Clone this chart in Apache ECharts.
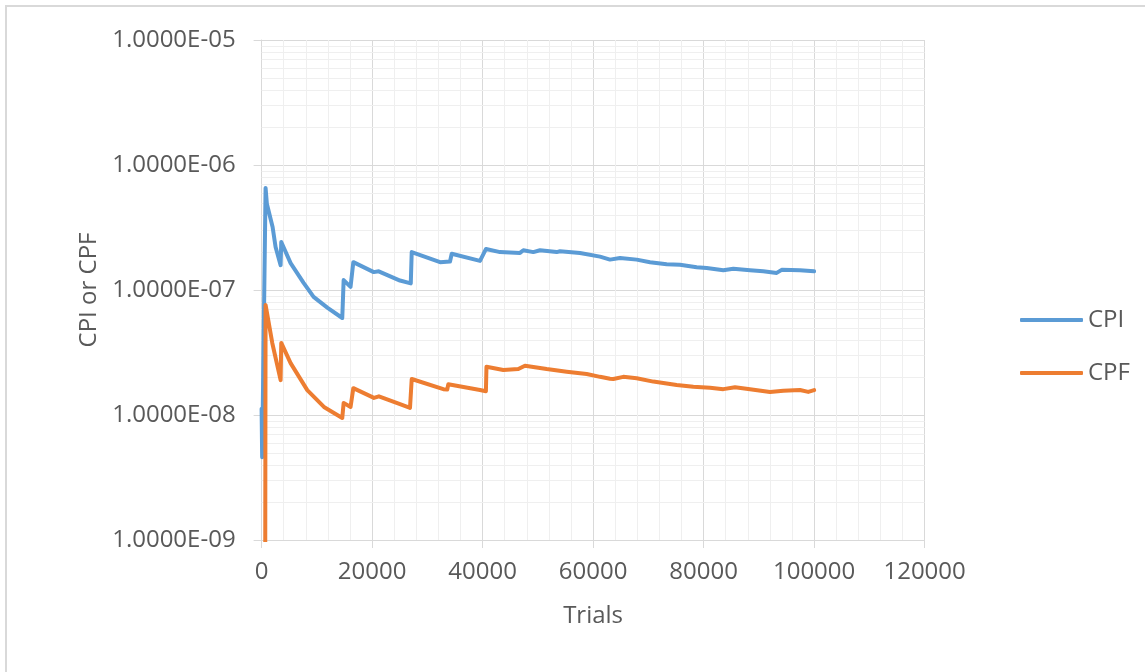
<!DOCTYPE html>
<html>
<head>
<meta charset="utf-8">
<script src="https://cdn.jsdelivr.net/npm/echarts@6/dist/echarts.min.js"></script>
<style>
  html, body { margin: 0; padding: 0; background: #ffffff; }
  #chart { width: 1145px; height: 672px; }
</style>
</head>
<body>
<div id="chart"></div>
<script>
// ---- Data ----
const seriesNames = ['CPI', 'CPF'];

const cpiTrials = [0, 100, 720, 950, 1990, 2530, 3440, 3560, 5250, 7600, 9410, 11950, 14600, 14850, 16100, 16600,
  20300, 21200, 25050, 27000, 27170, 32300, 34100, 34410, 39530, 40620, 43150, 46770, 47370, 49180, 50390,
  53410, 54010, 57630, 61250, 63060, 64870, 67890, 70300, 73320, 75730, 78750, 80560, 83570, 85380, 88400,
  90800, 93230, 94130, 97440, 100000];
const cpiValues = [1.12e-8, 4.6e-9, 6.55e-7, 4.9e-7, 3.19e-7, 2.21e-7, 1.58e-7, 2.42e-7, 1.64e-7, 1.14e-7, 8.8e-8,
  7.2e-8, 5.97e-8, 1.2e-7, 1.06e-7, 1.67e-7, 1.39e-7, 1.41e-7, 1.19e-7, 1.13e-7, 2.01e-7, 1.67e-7, 1.69e-7,
  1.95e-7, 1.71e-7, 2.13e-7, 2.01e-7, 1.98e-7, 2.08e-7, 2.01e-7, 2.08e-7, 2.01e-7, 2.04e-7, 1.98e-7, 1.85e-7,
  1.75e-7, 1.80e-7, 1.75e-7, 1.67e-7, 1.61e-7, 1.59e-7, 1.52e-7, 1.50e-7, 1.44e-7, 1.48e-7, 1.44e-7, 1.41e-7,
  1.37e-7, 1.45e-7, 1.44e-7, 1.41e-7];

// the first CPF values are zero (drawn below the axis floor)
const cpfTrials = [0, 600, 720, 1930, 3440, 3560, 5250, 8265, 11280, 14600, 14850, 16100, 16600, 20330, 21230,
  25050, 26860, 27170, 32890, 33600, 33790, 39530, 40600, 40700, 43750, 46460, 47670, 51600, 55220, 58840,
  61250, 63060, 63660, 65470, 67890, 70900, 75130, 78140, 81160, 83570, 85690, 88400, 92020, 94430, 97440,
  98940, 100000];
const cpfValues = [1e-11, 1e-11, 7.6e-8, 3.77e-8, 1.9e-8, 3.77e-8, 2.6e-8, 1.58e-8, 1.16e-8, 9.46e-9, 1.25e-8,
  1.16e-8, 1.64e-8, 1.37e-8, 1.41e-8, 1.22e-8, 1.14e-8, 1.94e-8, 1.61e-8, 1.6e-8, 1.76e-8, 1.585e-8, 1.55e-8,
  2.43e-8, 2.29e-8, 2.33e-8, 2.48e-8, 2.33e-8, 2.22e-8, 2.13e-8, 2.02e-8, 1.95e-8, 1.94e-8, 2.02e-8, 1.97e-8,
  1.85e-8, 1.74e-8, 1.68e-8, 1.65e-8, 1.61e-8, 1.67e-8, 1.61e-8, 1.53e-8, 1.56e-8, 1.585e-8, 1.53e-8, 1.58e-8];

const xMin = 0, xMax = 120000, xStep = 20000;
const yMin = 1e-9, yMax = 1e-5;
const yMinorMultipliers = [2, 3, 4, 5, 6, 7, 8, 9];

// ---- Build options ----
function pairs(xs, ys) { return xs.map((x, i) => [x, ys[i]]); }

const yMinorTicks = [];
for (let e = Math.round(Math.log10(yMin)); e < Math.round(Math.log10(yMax)); e++) {
  yMinorMultipliers.forEach(m => yMinorTicks.push(m * Math.pow(10, e)));
}

function sciLabel(v) {
  const e = Math.round(Math.log10(v));
  const mant = v / Math.pow(10, e);
  return mant.toFixed(4) + 'E' + (e < 0 ? '-' : '+') + String(Math.abs(e)).padStart(2, '0');
}

const FONT = 'Open Sans';
const TXT = '#595959';
const MAJOR = '#d9d9d9';
const MINOR = '#efefef';

const chart = echarts.init(document.getElementById('chart'), null, { renderer: 'canvas' });
chart.setOption({
  animation: false,
  backgroundColor: '#ffffff',
  textStyle: { fontFamily: FONT },
  graphic: [{
    type: 'rect',
    shape: { x: 6, y: 6, width: 1300, height: 1000 },
    style: { fill: 'none', stroke: '#d9d9d9', lineWidth: 2 },
    silent: true, z: -10
  }],
  grid: { left: 261.6, right: 220.4, top: 40, bottom: 132, containLabel: false },
  legend: {
    data: seriesNames,
    orient: 'vertical',
    left: 1015,
    top: 303,
    icon: 'roundRect',
    itemWidth: 63,
    itemHeight: 4,
    itemGap: 29,
    textStyle: { fontFamily: FONT, fontSize: 24, color: TXT, lineHeight: 24 }
  },
  xAxis: {
    type: 'value',
    min: xMin, max: xMax, interval: xStep,
    name: 'Trials',
    nameLocation: 'middle',
    nameGap: 64,
    nameTextStyle: { fontFamily: FONT, fontSize: 24, color: TXT },
    axisLine: { show: true, lineStyle: { color: MAJOR, width: 1 } },
    axisTick: { show: true, length: 8, lineStyle: { color: MAJOR } },
    axisLabel: { fontFamily: FONT, fontSize: 24, color: TXT, margin: 20, formatter: v => String(v) },
    splitLine: { show: true, lineStyle: { color: MAJOR, width: 1 } },
    minorTick: { show: false, splitNumber: 5 },
    minorSplitLine: { show: true, lineStyle: { color: MINOR, width: 1 } }
  },
  yAxis: {
    type: 'log',
    logBase: 10,
    min: yMin, max: yMax,
    name: 'CPI or CPF',
    nameLocation: 'middle',
    nameGap: 160,
    nameRotate: 90,
    nameTextStyle: { fontFamily: FONT, fontSize: 24, color: TXT },
    axisLine: { show: true, lineStyle: { color: MAJOR, width: 1 } },
    axisTick: { show: true, length: 8, lineStyle: { color: MAJOR } },
    axisLabel: { fontFamily: FONT, fontSize: 24, color: TXT, margin: 26, formatter: sciLabel },
    splitLine: { show: true, lineStyle: { color: MAJOR, width: 1 } }
  },
  series: [
    {
      name: 'minor-grid',
      type: 'custom',
      silent: true,
      z: 1,
      clip: false,
      encode: { x: 0, y: 1 },
      data: yMinorTicks.map(v => [xMin, v]),
      renderItem: function (params, api) {
        const v = api.value(1);
        const p1 = api.coord([xMin, v]);
        const p2 = api.coord([xMax, v]);
        return {
          type: 'line',
          shape: { x1: p1[0], y1: Math.round(p1[1]) + 0.5, x2: p2[0], y2: Math.round(p2[1]) + 0.5 },
          style: { stroke: MINOR, lineWidth: 1 }
        };
      }
    },
    {
      name: 'CPI',
      type: 'line',
      z: 3,
      symbol: 'none',
      showSymbol: false,
      clip: true,
      data: pairs(cpiTrials, cpiValues),
      itemStyle: { color: '#5b9bd5' },
      lineStyle: { color: '#5b9bd5', width: 4, cap: 'round', join: 'round' }
    },
    {
      name: 'CPF',
      type: 'line',
      z: 4,
      symbol: 'none',
      showSymbol: false,
      clip: true,
      data: pairs(cpfTrials, cpfValues),
      itemStyle: { color: '#ed7d31' },
      lineStyle: { color: '#ed7d31', width: 4, cap: 'round', join: 'round' }
    }
  ]
});
</script>
</body>
</html>
